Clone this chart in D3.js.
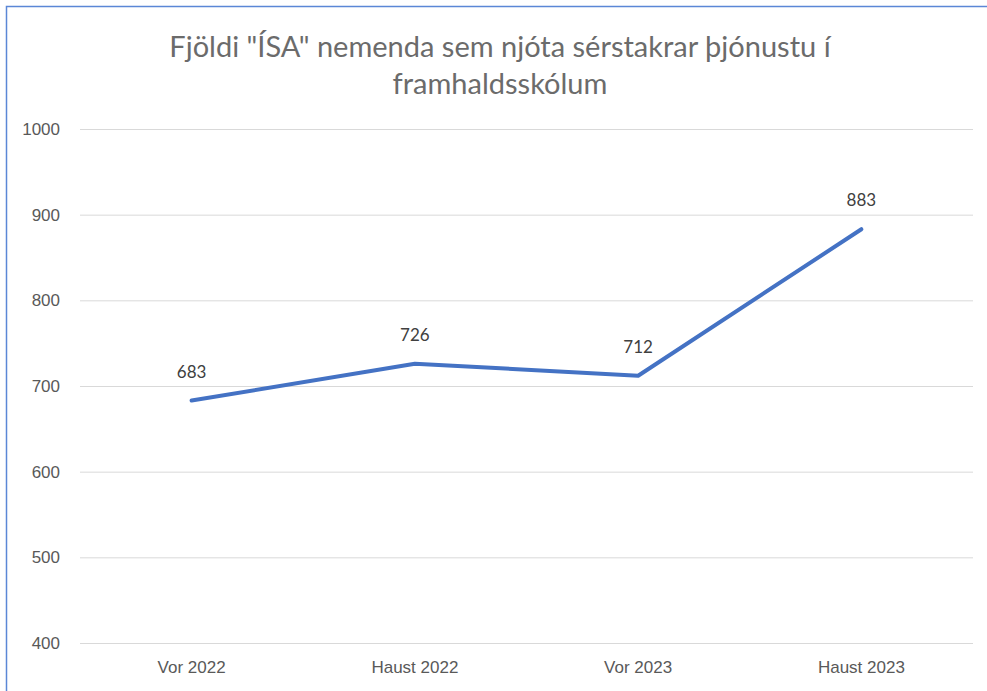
<!DOCTYPE html>
<html>
<head>
<meta charset="utf-8">
<script src="https://cdn.jsdelivr.net/npm/d3@7"></script>
<style>
	body { margin: 0; background: #fff; }
	svg { display: block; font-family: Lato, "Open Sans", sans-serif; }
</style>
</head>
<body>
<svg id="chart" width="987" height="691"></svg>
<script>
/* jshint esversion:6 */
/* global d3 */

let categories = ['Vor 2022', 'Haust 2022', 'Vor 2023', 'Haust 2023'],
	values = [683, 726, 712, 883],
	yTicks = [400, 500, 600, 700, 800, 900, 1000],
	titleLines = ['Fjöldi "ÍSA" nemenda sem njóta sérstakrar þjónustu í', 'framhaldsskólum'];

function chart() {
	var svg = d3.select('#chart'),
		margin = {top: 129, right: 14, bottom: 48, left: 80},
		width = svg.attr('width') - margin.left - margin.right,
		height = svg.attr('height') - margin.top - margin.bottom,
		x = d3.scaleBand().domain(categories).range([0, width]),
		y = d3.scaleLinear().domain([400, 1000]).range([height, 0]),
		line = d3.line()
			.x(function(d, i) { return x(categories[i]) + x.bandwidth() / 2; })
			.y(function(d) { return y(d); }),
		g = svg.append('g').attr('transform', 'translate(' + margin.left + ',' + margin.top + ')');

	// outer frame, right and bottom fall off the picture
	svg.append('rect')
		.attr('x', 6.5).attr('y', 6.5)
		.attr('width', 1000).attr('height', 1000)
		.attr('fill', 'none')
		.attr('stroke', '#5b87d6')
		.attr('stroke-width', 1.5);

	svg.append('text')
		.attr('x', 500)
		.attr('y', 57)
		.attr('text-anchor', 'middle')
		.style('font-size', '29px')
		.style('fill', '#6b6b6b')
		.selectAll('tspan')
		.data(titleLines)
		.enter().append('tspan')
			.attr('x', 500)
			.attr('dy', function(d, i) { return i ? 37 : 0; })
			.text(function(d) { return d; });

	// y axis: gridlines and labels
	g.append('g')
		.call(d3.axisLeft(y).tickValues(yTicks).tickSize(-width).tickPadding(20).tickFormat(d3.format('d')))
		.call(function(a) {
			a.select('.domain').remove();
			a.selectAll('line').attr('stroke', '#d9d9d9').attr('stroke-width', 1);
			a.selectAll('text').style('font-size', '17px').style('fill', '#595959');
		});

	g.append('g')
		.attr('transform', 'translate(0,' + height + ')')
		.call(d3.axisBottom(x).tickSize(0).tickPadding(18))
		.call(function(a) {
			a.select('.domain').remove();
			a.selectAll('text').style('font-size', '17px').style('fill', '#595959');
		});

	g.append('path')
		.datum(values)
		.attr('fill', 'none')
		.attr('stroke', '#4472c4')
		.attr('stroke-width', 4)
		.attr('stroke-linecap', 'round')
		.attr('stroke-linejoin', 'round')
		.attr('d', line);

	g.selectAll('.label')
		.data(values)
		.enter().append('text')
			.attr('class', 'label')
			.attr('x', function(d, i) { return x(categories[i]) + x.bandwidth() / 2; })
			.attr('y', function(d) { return y(d) - 23; })
			.attr('text-anchor', 'middle')
			.style('font-size', '17px')
			.style('fill', '#404040')
			.text(function(d) { return d; });
}

chart();
</script>
</body>
</html>
